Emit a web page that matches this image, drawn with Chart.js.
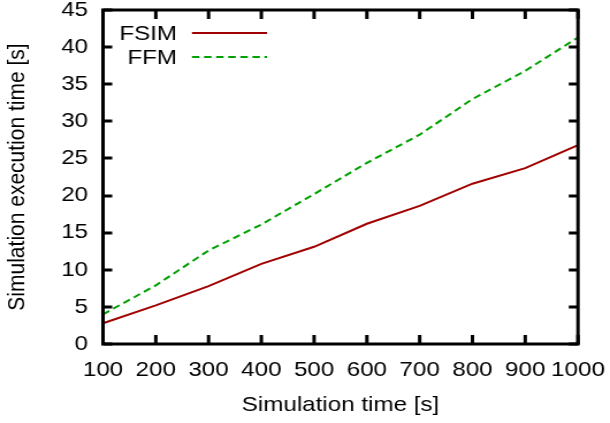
<!DOCTYPE html>
<html>
<head>
<meta charset="utf-8">
<script src="https://cdn.jsdelivr.net/npm/chart.js@4"></script>
<style>
  html, body { margin: 0; padding: 0; background: #fff; overflow: hidden; }
  /* la figura original tiene el texto estirado en horizontal */
  #wrap { width: 530px; height: 423px; transform: scaleX(1.1509); transform-origin: 0 0; }
</style>
</head>
<body>
<div id="wrap"><canvas id="chart"></canvas></div>
<script>
// Datos
const simTimes = [100, 200, 300, 400, 500, 600, 700, 800, 900, 1000];
const fsimValues = [2.8, 5.2, 7.8, 10.8, 13.1, 16.2, 18.6, 21.6, 23.7, 26.8];
const ffmValues = [4.0, 7.9, 12.6, 16.1, 20.2, 24.4, 28.2, 33.0, 36.8, 41.3];
const yTicks = [0, 5, 10, 15, 20, 25, 30, 35, 40, 45];

const FONT = "'Liberation Sans', Arial, sans-serif";
const FSIZE = 21;

// Borde y marcas hacia adentro al estilo gnuplot
const framePlugin = {
  id: 'frame',
  afterDraw(chart) {
    const { ctx, chartArea: a, scales } = chart;
    ctx.save();
    ctx.strokeStyle = '#000';
    ctx.lineWidth = 3;
    ctx.beginPath();
    simTimes.forEach(v => {
      const x = scales.x.getPixelForValue(v);
      ctx.moveTo(x, a.bottom); ctx.lineTo(x, a.bottom - 9);
      ctx.moveTo(x, a.top); ctx.lineTo(x, a.top + 9);
    });
    yTicks.forEach(v => {
      const y = Math.round(scales.y.getPixelForValue(v));
      ctx.moveTo(a.left, y); ctx.lineTo(a.left + 8, y);
      ctx.moveTo(a.right, y); ctx.lineTo(a.right - 8, y);
    });
    ctx.stroke();
    ctx.strokeRect(a.left, a.top, a.right - a.left, a.bottom - a.top);

    // Leyenda
    ctx.font = FSIZE + 'px ' + FONT;
    ctx.textAlign = 'right';
    ctx.textBaseline = 'middle';
    chart.data.datasets.forEach((ds, i) => {
      const y = 33 + i * 24;
      ctx.fillStyle = '#000';
      ctx.fillText(ds.label, 153.8, y + 1);
      ctx.strokeStyle = ds.borderColor;
      ctx.lineWidth = ds.borderWidth;
      ctx.setLineDash(ds.borderDash || []);
      ctx.beginPath();
      ctx.moveTo(166.8, y); ctx.lineTo(232, y);
      ctx.stroke();
    });
    ctx.restore();
  }
};

new Chart(document.getElementById('chart'), {
  type: 'line',
  data: {
    labels: simTimes,
    datasets: [
      { label: 'FSIM', data: fsimValues, borderColor: '#a00000', borderWidth: 2, pointRadius: 0, tension: 0, fill: false },
      { label: 'FFM', data: ffmValues, borderColor: '#00a000', borderWidth: 2, borderDash: [6.5, 4], pointRadius: 0, tension: 0, fill: false }
    ]
  },
  options: {
    responsive: true, maintainAspectRatio: false, animation: false,
    layout: { padding: { left: 0, right: 27.8, top: 10, bottom: 0 } },
    plugins: { legend: { display: false }, tooltip: { enabled: false } },
    scales: {
      x: {
        type: 'linear', min: 100, max: 1000,
        afterBuildTicks: s => { s.ticks = simTimes.map(v => ({ value: v })); },
        afterFit: s => { s.height = 79; s.paddingLeft = 0; s.paddingRight = 0; },
        grid: { display: false, drawTicks: false },
        border: { display: false },
        ticks: { color: '#000', font: { family: FONT, size: FSIZE }, padding: 14, maxRotation: 0, autoSkip: false, callback: v => String(v) },
        title: { display: true, text: 'Simulation time [s]', color: '#000', font: { family: FONT, size: FSIZE }, padding: { top: 4, bottom: 5 } }
      },
      y: {
        min: 0, max: 45,
        afterBuildTicks: s => { s.ticks = yTicks.map(v => ({ value: v })); },
        afterFit: s => { s.width = 89.5; s.paddingTop = 0; s.paddingBottom = 0; },
        grid: { display: false, drawTicks: false },
        border: { display: false },
        ticks: { color: '#000', font: { family: FONT, size: FSIZE }, padding: 13 },
        title: { display: true, text: 'Simulation execution time [s]', color: '#000', font: { family: FONT, size: FSIZE }, padding: { top: 3, bottom: 0 } }
      }
    }
  },
  plugins: [framePlugin]
});
</script>
</body>
</html>
